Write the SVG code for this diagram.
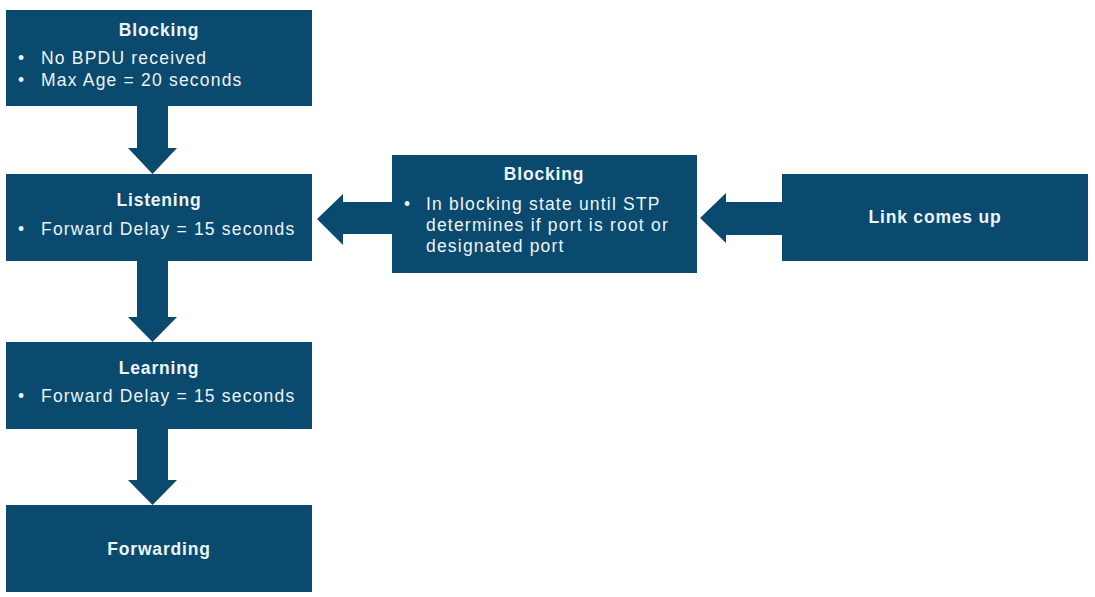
<svg xmlns="http://www.w3.org/2000/svg" width="1095" height="597" viewBox="0 0 1095 597">
<style>
.box{fill:#0a4a6e}
.arr{fill:#0a4a6e}
.t{font-family:"Liberation Sans",Arial,sans-serif;font-size:17.5px;font-weight:bold;fill:#eef4f8;text-anchor:middle;letter-spacing:0.8px}
.b{font-family:"Liberation Sans",Arial,sans-serif;font-size:17.5px;fill:#eef4f8;letter-spacing:1.2px}
</style>
<rect width="1095" height="597" fill="#ffffff"/>
<g id="connectors">
<polygon class="arr" points="137,106 168,106 168,148 177,148 152.5,174 128,148 137,148"/>
<polygon class="arr" points="137,261 168,261 168,317 177,317 152.5,342 128,317 137,317"/>
<polygon class="arr" points="137,429 168,429 168,480 177,480 152.5,505 128,480 137,480"/>
<polygon class="arr" points="392,202 343,202 343,194 317,219 343,245 343,234 392,234"/>
<polygon class="arr" points="782,202 726,202 726,193 700,218 726,243 726,235 782,235"/>
</g>
<g id="blocking1">
<rect class="box" x="6" y="10" width="306" height="96"/>
<text class="t" x="159" y="36">Blocking</text>
<text class="b" x="18" y="64">•</text><text class="b" x="41" y="64">No BPDU received</text>
<text class="b" x="18" y="86">•</text><text class="b" x="41" y="86">Max Age = 20 seconds</text>
</g>
<g id="listening">
<rect class="box" x="6" y="174" width="306" height="87"/>
<text class="t" x="159" y="206">Listening</text>
<text class="b" x="18" y="235">•</text><text class="b" x="41" y="235">Forward Delay = 15 seconds</text>
</g>
<g id="learning">
<rect class="box" x="6" y="342" width="306" height="87"/>
<text class="t" x="159" y="374">Learning</text>
<text class="b" x="18" y="402">•</text><text class="b" x="41" y="402">Forward Delay = 15 seconds</text>
</g>
<g id="forwarding">
<rect class="box" x="6" y="505" width="306" height="87"/>
<text class="t" x="159" y="555">Forwarding</text>
</g>
<g id="blocking2">
<rect class="box" x="392" y="155" width="305" height="118"/>
<text class="t" x="544" y="180">Blocking</text>
<text class="b" x="404" y="210">•</text><text class="b" x="426" y="210">In blocking state until STP</text>
<text class="b" x="426" y="231">determines if port is root or</text>
<text class="b" x="426" y="252">designated port</text>
</g>
<g id="linkup">
<rect class="box" x="782" y="174" width="306" height="87"/>
<text class="t" x="935" y="223">Link comes up</text>
</g>
</svg>
